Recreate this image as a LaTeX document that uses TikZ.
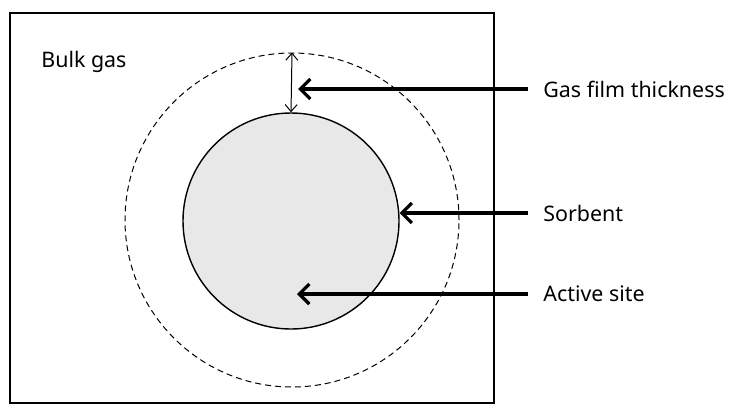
\documentclass[tikz,border=0pt]{standalone}
\usepackage{fontspec}
\setmainfont{Noto Sans}
\usetikzlibrary{positioning,arrows.meta}
\tikzset{
  pointer/.style={line width=1.6pt, draw=black, -{Straight Barb[length=5pt,width=10pt]}},
  gap/.style={line width=0.5pt, draw=black, {Straight Barb[length=3.5pt,width=6pt]}-{Straight Barb[length=3.5pt,width=6pt]}},
  film/.style={circle, draw=black, densely dashed, line width=0.5pt, inner sep=0pt, minimum size=167pt},
  grain/.style={circle, draw=black, fill=black!9, line width=0.7pt, inner sep=0pt, minimum size=108pt},
  tag/.style={anchor=west, inner sep=0pt, font=\fontsize{10.7}{12}\selectfont}
}
\begin{document}
\begin{tikzpicture}[x=0.5pt, y=-0.5pt]
    \useasboundingbox (0,0) rectangle (731,408);
    \draw[line width=0.8pt] (10,13) rectangle (494,403);

    \node[film]  (gasfilm) at (292,220) {};
    \node[grain] (sorbent) at (291,221) {};

    \node[tag] (bulk)  at (41,62)   {Bulk gas};
    \node[tag] (tfilm) at (543,89)  {Gas film thickness};
    \node[tag] (tsorb) at (543,213) {Sorbent};
    \node[tag] (tsite) at (543,294) {Active site};

    \coordinate (site) at (297,294);

    \draw[gap]     (gasfilm.north) -- (sorbent.north);
    \draw[pointer] ([xshift=-7.5pt]tfilm.west) -- ([xshift=3pt]gasfilm.north |- tfilm.west);
    \draw[pointer] ([xshift=-7.5pt]tsorb.west) -- (sorbent.east |- tsorb.west);
    \draw[pointer] ([xshift=-7.5pt]tsite.west) -- (site);
\end{tikzpicture}
\end{document}
